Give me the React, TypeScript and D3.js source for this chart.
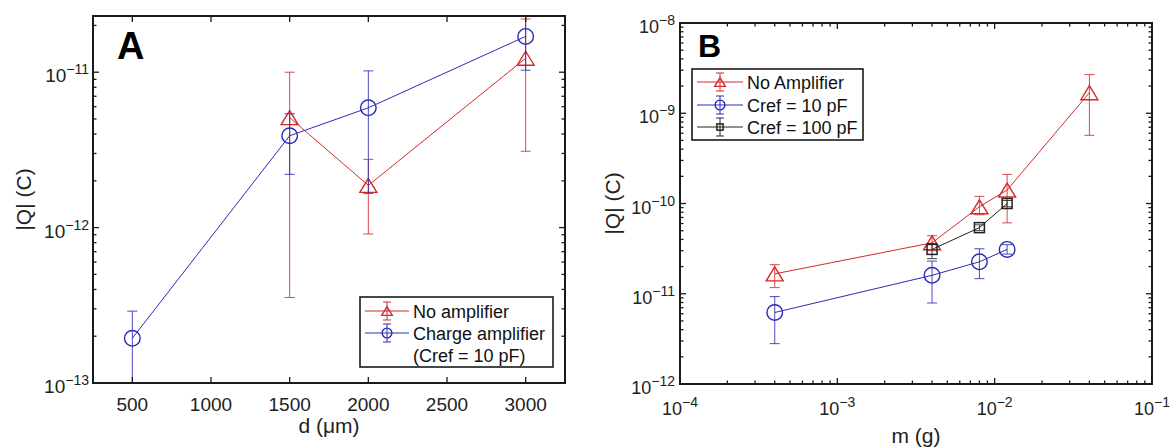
import React from 'react'
import * as d3 from 'd3'

// ---- panel A : |Q| against pellet distance d (um)
const distNoAmp = [1500, 2000, 3000]
const qNoAmpA = [5.1e-12, 1.87e-12, 1.23e-11]
const qNoAmpAHi = [1.0e-11, 2.75e-12, 2.2e-11]
const qNoAmpALo = [3.55e-13, 9.1e-13, 3.1e-12]

const distCharge = [500, 1500, 2000, 3000]
const qChargeA = [1.94e-13, 3.9e-12, 5.9e-12, 1.7e-11]
const qChargeAHi = [2.9e-13, 5.4e-12, 1.02e-11, 2.3e-11]
const qChargeALo = [9e-14, 2.2e-12, 1.66e-12, 1.03e-11]

const distTicks = [500, 1000, 1500, 2000, 2500, 3000]
const legendA = ['No amplifier', 'Charge amplifier', '(Cref = 10 pF)']

// ---- panel B : |Q| against mass m (g)
const massNoAmp = [4e-4, 4e-3, 8e-3, 1.2e-2, 4e-2]
const qNoAmpB = [1.66e-11, 3.67e-11, 9.2e-11, 1.41e-10, 1.69e-9]
const qNoAmpBHi = [2.1e-11, 4.4e-11, 1.2e-10, 2.1e-10, 2.68e-9]
const qNoAmpBLo = [1.17e-11, 3.0e-11, 7.5e-11, 6.1e-11, 5.7e-10]

const mass10 = [4e-4, 4e-3, 8e-3, 1.2e-2]
const q10 = [6.2e-12, 1.6e-11, 2.26e-11, 3.1e-11]
const q10Hi = [9.3e-12, 2.3e-11, 3.15e-11, 3.5e-11]
const q10Lo = [2.8e-12, 7.9e-12, 1.47e-11, 2.75e-11]

const mass100 = [4e-3, 8e-3, 1.2e-2]
const q100 = [3.1e-11, 5.4e-11, 1.0e-10]
const q100Hi = [3.6e-11, 5.8e-11, 1.08e-10]
const q100Lo = [2.45e-11, 5.0e-11, 9.2e-11]

const legendB = ['No Amplifier', 'Cref = 10 pF', 'Cref = 100 pF']

const FONT = '"Liberation Sans", Arial, Helvetica, sans-serif'
const RED = '#d42a2a'
const BLUE = '#2b2bb5'
const BLACK = '#222'
const AXIS = '#1a1a1a'

const isPow10 = (v) => Math.abs(Math.log10(v) - Math.round(Math.log10(v))) < 1e-6

function Marker({ shape, x, y, color, s = 1 }) {
	if (shape === 'tri') {
		const w = 8.5 * s,
			h = 14 * s
		const pts = [
			[x, y - h / 2],
			[x - w, y + h / 2],
			[x + w, y + h / 2],
		]
		return <polygon points={pts.map((p) => p.join(',')).join(' ')} fill="none" stroke={color} strokeWidth={1.4} />
	}
	if (shape === 'circ') {
		return <circle cx={x} cy={y} r={7.8 * s} fill="none" stroke={color} strokeWidth={1.4} />
	}
	const a = 5 * s
	return <rect x={x - a} y={y - a} width={2 * a} height={2 * a} fill="none" stroke={color} strokeWidth={1.5} />
}

function ErrSeries({ xs, ys, hi, lo, xs_, ys_, color, shape }) {
	const pts = xs.map((d, i) => [xs_(d), ys_(ys[i])])
	const line = d3.line()
	return (
		<g>
			{xs.map((d, i) => {
				const x = xs_(d)
				const y1 = ys_(hi[i])
				const y2 = ys_(lo[i])
				return (
					<g key={i} stroke={color} strokeWidth={1} opacity={0.85}>
						<line x1={x} x2={x} y1={y1} y2={y2} />
						<line x1={x - 5} x2={x + 5} y1={y1} y2={y1} />
						<line x1={x - 5} x2={x + 5} y1={y2} y2={y2} />
					</g>
				)
			})}
			<path d={line(pts)} fill="none" stroke={color} strokeWidth={1} />
			{pts.map((p, i) => (
				<Marker key={i} shape={shape} x={p[0]} y={p[1]} color={color} />
			))}
		</g>
	)
}

function PowLabel({ v, x, y, anchor, size, sup }) {
	const e = Math.round(Math.log10(v))
	return (
		<text x={x} y={y} textAnchor={anchor} fontSize={size} fill="#222" fontFamily={FONT}>
			10
			<tspan dy={-8} fontSize={sup}>
				{(e < 0 ? '\u2212' : '') + Math.abs(e)}
			</tspan>
		</text>
	)
}

function Frame({ box }) {
	return (
		<rect
			x={box.left}
			y={box.top}
			width={box.right - box.left}
			height={box.bottom - box.top}
			fill="none"
			stroke={AXIS}
			strokeWidth={2}
		/>
	)
}

function YLogTicks({ ys, box }) {
	const ticks = ys.ticks()
	return (
		<g stroke={AXIS} strokeWidth={1.3}>
			{ticks.map((t, i) => {
				const y = ys(t)
				const len = isPow10(t) ? 6 : 3.5
				return (
					<g key={i}>
						<line x1={box.left} x2={box.left + len} y1={y} y2={y} />
						<line x1={box.right} x2={box.right - len} y1={y} y2={y} />
					</g>
				)
			})}
		</g>
	)
}

function LegendEntry({ x, y, color, shape, label, lineW }) {
	const mx = x + lineW / 2
	return (
		<g>
			<line x1={x} x2={x + lineW} y1={y} y2={y} stroke={color} strokeWidth={1} />
			<g stroke={color} strokeWidth={1}>
				<line x1={mx} x2={mx} y1={y - 9} y2={y + 9} />
				<line x1={mx - 4} x2={mx + 4} y1={y - 9} y2={y - 9} />
				<line x1={mx - 4} x2={mx + 4} y1={y + 9} y2={y + 9} />
			</g>
			<Marker shape={shape} x={mx} y={y} color={color} s={0.62} />
			{label && (
				<text x={x + lineW + 4} y={y + 6.5} fontSize={18} fontFamily={FONT} fill="#111">
					{label}
				</text>
			)}
		</g>
	)
}

function PanelA() {
	const box = { left: 93, right: 565, top: 16, bottom: 383 }
	const xs = d3.scaleLinear().domain([250, 3250]).range([box.left, box.right])
	const ys = d3.scaleLog().domain([1e-13, 2.3e-11]).range([box.bottom, box.top])
	const majors = ys.ticks().filter(isPow10)
	return (
		<g>
			<defs>
				<clipPath id="clipA">
					<rect x={box.left} y={box.top} width={box.right - box.left} height={box.bottom - box.top} />
				</clipPath>
			</defs>
			<g clipPath="url(#clipA)">
				<ErrSeries xs={distNoAmp} ys={qNoAmpA} hi={qNoAmpAHi} lo={qNoAmpALo} xs_={xs} ys_={ys} color={RED} shape="tri" />
				<ErrSeries xs={distCharge} ys={qChargeA} hi={qChargeAHi} lo={qChargeALo} xs_={xs} ys_={ys} color={BLUE} shape="circ" />
			</g>
			<YLogTicks ys={ys} box={box} />
			<g stroke={AXIS} strokeWidth={1.3}>
				{distTicks.map((t) => (
					<g key={t}>
						<line x1={xs(t)} x2={xs(t)} y1={box.bottom} y2={box.bottom - 6} />
						<line x1={xs(t)} x2={xs(t)} y1={box.top} y2={box.top + 6} />
					</g>
				))}
			</g>
			<Frame box={box} />
			{distTicks.map((t) => (
				<text key={t} x={xs(t)} y={411} textAnchor="middle" fontSize={19} fontFamily={FONT} fill="#222">
					{t}
				</text>
			))}
			{majors.map((t) => (
				<PowLabel key={t} v={t} x={89} y={ys(t) + 10} anchor="end" size={19} sup={14} />
			))}
			<text x={117} y={59} fontSize={38} fontWeight="bold" fontFamily={FONT} fill="#000">
				A
			</text>
			<text x={(box.left + box.right) / 2} y={433} textAnchor="middle" fontSize={21} fontFamily={FONT} fill="#222">
				d (μm)
			</text>
			<text
				transform={`translate(31,${(box.top + box.bottom) / 2}) rotate(-90)`}
				textAnchor="middle"
				fontSize={21}
				fontFamily={FONT}
				fill="#222"
			>
				|Q| (C)
			</text>
			<g>
				<rect x={360} y={297} width={193} height={70} fill="#fff" stroke={AXIS} strokeWidth={1.6} />
				<LegendEntry x={365} y={311} color={RED} shape="tri" label={legendA[0]} lineW={44} />
				<LegendEntry x={365} y={333} color={BLUE} shape="circ" label={legendA[1]} lineW={44} />
				<text x={413} y={362} fontSize={18} fontFamily={FONT} fill="#111">
					{legendA[2]}
				</text>
			</g>
		</g>
	)
}

function PanelB() {
	const box = { left: 680, right: 1152, top: 23, bottom: 384 }
	const xs = d3.scaleLog().domain([1e-4, 1e-1]).range([box.left, box.right])
	const ys = d3.scaleLog().domain([1e-12, 1e-8]).range([box.bottom, box.top])
	const xTicks = xs.ticks()
	const yMajors = ys.ticks().filter(isPow10)
	return (
		<g>
			<defs>
				<clipPath id="clipB">
					<rect x={box.left} y={box.top} width={box.right - box.left} height={box.bottom - box.top} />
				</clipPath>
			</defs>
			<g clipPath="url(#clipB)">
				<ErrSeries xs={massNoAmp} ys={qNoAmpB} hi={qNoAmpBHi} lo={qNoAmpBLo} xs_={xs} ys_={ys} color={RED} shape="tri" />
				<ErrSeries xs={mass10} ys={q10} hi={q10Hi} lo={q10Lo} xs_={xs} ys_={ys} color={BLUE} shape="circ" />
				<ErrSeries xs={mass100} ys={q100} hi={q100Hi} lo={q100Lo} xs_={xs} ys_={ys} color={BLACK} shape="sq" />
			</g>
			<YLogTicks ys={ys} box={box} />
			<g stroke={AXIS} strokeWidth={1.3}>
				{xTicks.map((t, i) => {
					const len = isPow10(t) ? 6 : 3.5
					return (
						<g key={i}>
							<line x1={xs(t)} x2={xs(t)} y1={box.bottom} y2={box.bottom - len} />
							<line x1={xs(t)} x2={xs(t)} y1={box.top} y2={box.top + len} />
						</g>
					)
				})}
			</g>
			<Frame box={box} />
			{xTicks.filter(isPow10).map((t) => (
				<PowLabel key={t} v={t} x={xs(t)} y={415} anchor="middle" size={18} sup={14} />
			))}
			{yMajors.map((t) => (
				<PowLabel key={t} v={t} x={675} y={ys(t) + 10} anchor="end" size={18} sup={14} />
			))}
			<text x={698} y={57} fontSize={32} fontWeight="bold" fontFamily={FONT} fill="#000">
				B
			</text>
			<text x={(box.left + box.right) / 2} y={443} textAnchor="middle" fontSize={21} fontFamily={FONT} fill="#222">
				m (g)
			</text>
			<text
				transform={`translate(620,${(box.top + box.bottom) / 2}) rotate(-90)`}
				textAnchor="middle"
				fontSize={21}
				fontFamily={FONT}
				fill="#222"
			>
				|Q| (C)
			</text>
			<g>
				<rect x={692} y={69} width={171} height={71} fill="#fff" stroke={AXIS} strokeWidth={1.6} />
				<LegendEntry x={697} y={82} color={RED} shape="tri" label={legendB[0]} lineW={46} />
				<LegendEntry x={697} y={105} color={BLUE} shape="circ" label={legendB[1]} lineW={46} />
				<LegendEntry x={697} y={127} color={BLACK} shape="sq" label={legendB[2]} lineW={46} />
			</g>
		</g>
	)
}

export default function App() {
	return (
		<svg
			width={1175}
			height={448}
			style={{ position: 'absolute', left: 0, top: 0, background: '#fff' }}
		>
			<PanelA />
			<PanelB />
		</svg>
	)
}
